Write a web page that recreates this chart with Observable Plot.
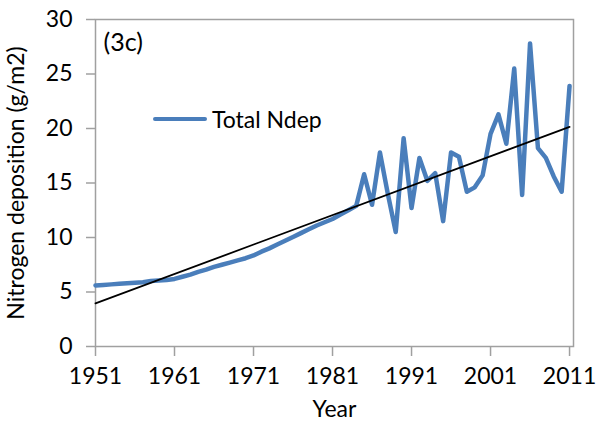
<!DOCTYPE html>
<html>
<head>
<meta charset="utf-8">
<script src="https://cdn.jsdelivr.net/npm/d3@7"></script>
<script src="https://cdn.jsdelivr.net/npm/@observablehq/plot@0.6"></script>
<style>
  html, body { margin: 0; padding: 0; background: #fff; }
  #wrap { position: relative; width: 599px; height: 421px; font-family: Lato, "Open Sans", sans-serif; }
  #legend { position: absolute; left: 153px; top: 105px; display: flex; align-items: center; font-size: 23px; color: #000; }
  #legend .sw { display: inline-block; width: 54px; height: 4px; background: #4a7ebb; border-radius: 2px; margin-right: 5px; }
</style>
</head>
<body>
<div id="wrap">
  <div id="chart"></div>
  <div id="legend"><span class="sw"></span><span>Total Ndep</span></div>
</div>
<script>
const years = d3.range(1951, 2012);
const ndep = [
  5.6, 5.65, 5.7, 5.75, 5.8, 5.85, 5.9, 6.0, 6.05, 6.1,
  6.2, 6.4, 6.6, 6.85, 7.05, 7.3, 7.5, 7.7, 7.9, 8.1,
  8.35, 8.7, 9.0, 9.35, 9.7, 10.05, 10.4, 10.75, 11.1, 11.4,
  11.7, 12.1, 12.5, 12.9,
  15.8, 13.0, 17.8, 14.0, 10.5, 19.1, 12.7, 17.3, 15.2, 15.9,
  11.5, 17.8, 17.4, 14.2, 14.6, 15.7, 19.5, 21.3, 18.6, 25.5,
  13.9, 27.8, 18.2, 17.3, 15.6, 14.2, 23.9
];
const trendYears = [1951, 2011];
const trendValues = [3.95, 20.15];
const xTicks = [1951, 1961, 1971, 1981, 1991, 2001, 2011];
const yTicks = [0, 5, 10, 15, 20, 25, 30];

const data = years.map((y, i) => ({year: y, v: ndep[i]}));
const trend = trendYears.map((y, i) => ({year: y, v: trendValues[i]}));

const axisColor = "#a0a0a0";
const fs = 23;
const chart = Plot.plot({
  width: 599,
  height: 421,
  marginLeft: 95,
  marginRight: 26,
  marginTop: 19,
  marginBottom: 75,
  style: {fontFamily: "Lato, 'Open Sans', sans-serif", fontSize: fs + "px", color: "#000", background: "#fff"},
  x: {domain: [1951, 2011.5]},
  y: {domain: [0, 30]},
  marks: [
    Plot.frame({stroke: axisColor, strokeWidth: 1.5}),
    Plot.axisX({ticks: xTicks, tickFormat: d => String(d), tickSize: 10, tickPadding: 11, stroke: axisColor, strokeWidth: 1.5, fill: "#000", fontSize: fs, label: "Year", labelAnchor: "center", labelArrow: "none", labelOffset: 70}),
    Plot.axisY({ticks: yTicks, tickSize: 9, tickPadding: 14, stroke: axisColor, strokeWidth: 1.5, fill: "#000", fontSize: fs, label: "Nitrogen deposition (g/m2)", labelAnchor: "center", labelArrow: "none", labelOffset: 88}),
    Plot.line(data, {x: "year", y: "v", stroke: "#4a7ebb", strokeWidth: 4.5, strokeLinejoin: "round", strokeLinecap: "round"}),
    Plot.line(trend, {x: "year", y: "v", stroke: "#000", strokeWidth: 1.8}),
    Plot.text(["(3c)"], {frameAnchor: "top-left", dx: 8, dy: 14, fontSize: 25, fill: "#000", textAnchor: "start"})
  ]
});
document.getElementById("chart").appendChild(chart);
</script>
</body>
</html>
